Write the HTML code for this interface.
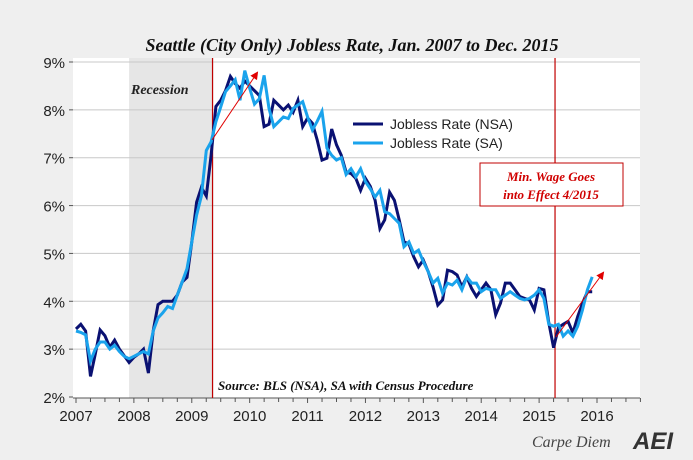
<!DOCTYPE html>
<html><head><meta charset="utf-8"><style>
html,body{margin:0;padding:0;background:#efefef;}
svg{display:block;}
</style></head><body>
<svg id="chart" width="693" height="460" xmlns="http://www.w3.org/2000/svg">
<rect x="0" y="0" width="693" height="460" fill="#efefef"/>
<text x="352" y="51" text-anchor="middle" font-family="Liberation Serif, serif" font-style="italic" font-weight="bold" font-size="18" fill="#111">Seattle (City Only) Jobless Rate, Jan. 2007 to Dec. 2015</text>
<g id="plot"></g>
</svg>
<script>
const yTicks=[2,3,4,5,6,7,8,9];
const yearLabels=["2007","2008","2009","2010","2011","2012","2013","2014","2015","2016"];
const nsa=[3.42,3.52,3.38,2.43,2.9,3.4,3.28,3.04,3.19,3.0,2.86,2.72,
2.83,2.9,3.0,2.5,3.38,3.93,4.0,4.0,4.0,4.13,4.4,4.5,
5.24,6.07,6.38,6.2,7.05,8.07,8.2,8.4,8.7,8.55,8.45,8.6,
8.5,8.4,8.3,7.65,7.7,8.2,8.1,8.0,8.1,7.95,8.2,7.65,
7.83,7.72,7.37,6.95,6.99,7.6,7.27,7.05,6.7,6.67,6.57,6.32,
6.57,6.4,6.11,5.52,5.7,6.28,6.11,5.7,5.24,5.2,4.93,4.72,
4.86,4.62,4.3,3.92,4.03,4.65,4.62,4.55,4.3,4.51,4.27,4.1,
4.24,4.38,4.24,3.72,3.96,4.38,4.38,4.24,4.1,4.06,4.03,3.82,
4.27,4.24,3.55,3.03,3.45,3.52,3.58,3.34,3.68,3.96,4.2,4.2];
const sa=[3.38,3.35,3.3,2.75,3.0,3.15,3.15,3.0,3.08,2.95,2.85,2.8,
2.85,2.9,2.95,2.9,3.38,3.65,3.76,3.89,3.85,4.13,4.4,4.68,
5.24,5.8,6.2,7.15,7.33,7.75,8.06,8.38,8.5,8.63,8.2,8.82,
8.45,8.12,8.23,8.72,8.03,7.65,7.75,7.85,7.82,8.03,8.1,8.17,
7.85,7.58,7.76,7.97,7.2,7.05,6.95,7.0,6.65,6.77,6.6,6.77,
6.5,6.35,6.18,6.32,5.87,5.83,5.73,5.63,5.14,5.24,5.0,5.07,
4.83,4.62,4.38,4.48,4.17,4.38,4.34,4.44,4.24,4.51,4.38,4.38,
4.2,4.27,4.24,4.24,4.06,4.13,4.2,4.13,4.06,4.03,4.06,4.13,
4.24,4.06,3.52,3.48,3.52,3.27,3.38,3.27,3.48,3.82,4.24,4.51];
const NS="http://www.w3.org/2000/svg";
const L=73,R=640,T=58,B=398;
const x0=76,monthW=(597-76)/108;
function xs(m){return x0+m*monthW;}
function ys(v){return 397-(v-2)*(397-62)/7;}
const g=document.getElementById('plot');
function mk(tag,attrs,parent){const e=document.createElementNS(NS,tag);for(const k in attrs)e.setAttribute(k,attrs[k]);(parent||g).appendChild(e);return e;}
let e;
e=mk('rect',{x:L,y:T,width:R-L,height:B-T,fill:'#fff'});


e=mk('rect',{x:xs(11),y:T,width:xs(28.5)-xs(11),height:B-T,fill:'#e6e6e6'});


yTicks.forEach(v=>{
 const y=ys(v);
 if(v>2){e=mk('line',{x1:L,x2:R,y1:y,y2:y,stroke:'#c8c8c8','stroke-width':1});
 
 }
 mk('line',{x1:L-4,x2:L,y1:y,y2:y,stroke:'#555'});
 e=mk('text',{x:L-8,y:y+6,'text-anchor':'end','font-family':'Liberation Sans, sans-serif','font-size':'15',fill:'#222'});
 e.textContent=v+'%';
 
 
});
mk('line',{x1:L,x2:R,y1:B,y2:B,stroke:'#555'});
for(let q=0;q<=39;q++){const x=xs(q*3);mk('line',{x1:x,x2:x,y1:B,y2:B+(q%4==0?5:4),stroke:'#555'});}
yearLabels.forEach((t,i)=>{
 e=mk('text',{x:xs(i*12),y:421,'text-anchor':'middle','font-family':'Liberation Sans, sans-serif','font-size':'15',fill:'#222'});
 e.textContent=t;
 
 
});
// red vertical lines
[28.3,99.3].forEach(m=>{e=mk('line',{x1:xs(m),x2:xs(m),y1:T,y2:B,stroke:'#c00000','stroke-width':1.2});

});
function series(arr,color,name){
 const d=arr.map((v,i)=>(i?'L':'M')+xs(i).toFixed(1)+','+ys(v).toFixed(1)).join(' ');
 const p=mk('path',{d:d,fill:'none',stroke:color,'stroke-width':3,'stroke-linejoin':'miter'});
 
 
}
series(nsa,'#0a1172','series-nsa');
series(sa,'#1aa3ec','series-sa');
// arrows
mk('defs',{}).innerHTML='<marker id="ah" markerWidth="8" markerHeight="8" refX="6" refY="4" orient="auto"><path d="M0,0 L8,4 L0,8 z" fill="#e00000"/></marker>';
e=mk('line',{x1:212,y1:140,x2:257,y2:73,stroke:'#e00000','stroke-width':1,'marker-end':'url(#ah)'});


e=mk('line',{x1:556,y1:337,x2:603,y2:273,stroke:'#e00000','stroke-width':1,'marker-end':'url(#ah)'});


// annotations
e=mk('text',{x:131,y:94,'font-family':'Liberation Serif, serif','font-style':'italic','font-weight':'bold','font-size':'14',fill:'#222'});
e.textContent='Recession';


e=mk('text',{x:218,y:390,'font-family':'Liberation Serif, serif','font-style':'italic','font-weight':'bold','font-size':'13',fill:'#111'});
e.textContent='Source: BLS (NSA), SA with Census Procedure';


e=mk('rect',{x:480,y:163,width:143,height:43,fill:'#fff',stroke:'#c00000','stroke-width':1});


e=mk('text',{x:551,y:181,'text-anchor':'middle','font-family':'Liberation Serif, serif','font-style':'italic','font-weight':'bold','font-size':'13',fill:'#d00000'});
e.textContent='Min. Wage Goes';


e=mk('text',{x:551,y:199,'text-anchor':'middle','font-family':'Liberation Serif, serif','font-style':'italic','font-weight':'bold','font-size':'13',fill:'#d00000'});
e.textContent='into Effect 4/2015';


// legend
[['Jobless Rate (NSA)','#0a1172',124],['Jobless Rate (SA)','#1aa3ec',143]].forEach(l=>{
 e=mk('line',{x1:353,x2:383,y1:l[2],y2:l[2],stroke:l[1],'stroke-width':3});
 
 
 e=mk('text',{x:390,y:l[2]+5,'font-family':'Liberation Sans, sans-serif','font-size':'14',fill:'#222'});
 e.textContent=l[0];
 
 
});
e=mk('text',{x:532,y:447,'font-family':'Liberation Serif, serif','font-style':'italic','font-size':'16',fill:'#444'});
e.textContent='Carpe Diem';


e=mk('text',{x:633,y:449,'font-family':'Liberation Sans, sans-serif','font-style':'italic','font-weight':'bold','font-size':'24',fill:'#333'});
e.textContent='AEI';


</script>
</body></html>
